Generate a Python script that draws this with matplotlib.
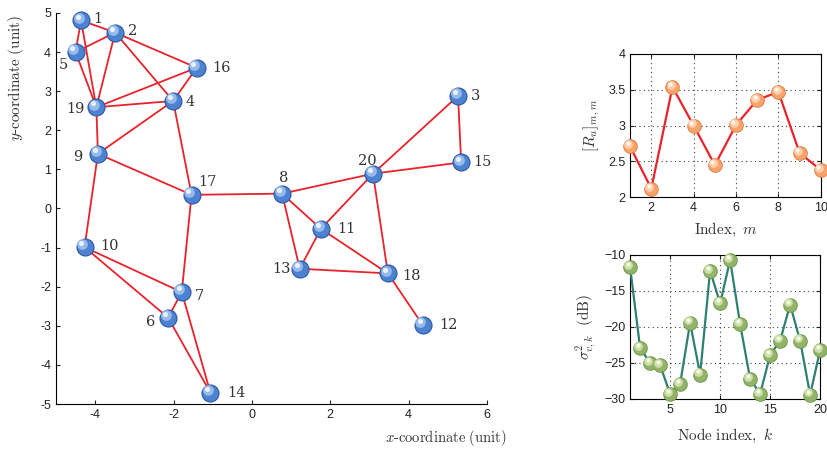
import matplotlib
matplotlib.use("Agg")
import matplotlib.pyplot as plt
import numpy as np
from matplotlib.transforms import offset_copy

plt.rcParams['mathtext.fontset'] = 'cm'
plt.rcParams['font.family'] = ['Liberation Sans', 'DejaVu Sans']

# ---- data ----
node_ids = list(range(1, 21))
node_x = [-4.36, -3.49, 5.26, -2.01, -4.50, -2.14, -1.79, 0.77, -3.93, -4.27,
          1.76, 4.36, 1.22, -1.06, 5.34, -1.41, -1.54, 3.47, -3.97, 3.09]
node_y = [4.81, 4.50, 2.88, 2.75, 4.00, -2.79, -2.14, 0.38, 1.40, -0.99,
          -0.52, -2.98, -1.54, -4.71, 1.18, 3.60, 0.35, -1.66, 2.59, 0.89]
edges = [(1, 2), (1, 5), (1, 19), (2, 5), (2, 19), (2, 16), (2, 4), (5, 19),
         (19, 16), (19, 4), (16, 4), (4, 9), (19, 9), (4, 17), (9, 17), (9, 10),
         (17, 8), (17, 7), (10, 7), (10, 6), (7, 6), (7, 14), (6, 14), (8, 20),
         (8, 11), (8, 13), (11, 13), (11, 20), (11, 18), (13, 18), (20, 18),
         (20, 3), (20, 15), (3, 15), (18, 12)]
# label offsets in points (dx, dy)
label_off = {1: (9, 1), 2: (9, 1), 3: (9, 0), 4: (9, -1), 5: (-12, -9), 6: (-16, -3),
             7: (9, -3), 8: (-2, 11), 9: (-18, -2), 10: (11, 1), 11: (12, 0),
             12: (12, 0), 13: (-20, 0), 14: (12, 0), 15: (9, 0), 16: (11, 0),
             17: (5, 9), 18: (10, -2), 19: (-22, -1), 20: (-11, 9)}

m_index = list(range(1, 11))
R_u = [2.71, 2.12, 3.54, 3.00, 2.45, 3.01, 3.36, 3.47, 2.62, 2.38]

k_index = list(range(1, 21))
sigma_db = [-11.7, -22.9, -25.0, -25.3, -29.3, -27.9, -19.4, -26.6, -12.2, -16.7,
            -10.7, -19.6, -27.2, -29.3, -23.9, -21.9, -16.9, -21.9, -29.4, -23.2]

RED = '#e8232b'


def spheres(ax, x, y, base, dark, light, size, z=5):
    ax.scatter(x, y, s=size, color=dark, zorder=z, linewidths=0, clip_on=False)
    ax.scatter(x, y, s=size * 0.78, color=base, zorder=z + 0.1, linewidths=0, clip_on=False)
    trans = ax.transData
    r = np.sqrt(size) / 2.0
    t2 = offset_copy(trans, fig=ax.figure, x=-r * 0.25, y=r * 0.3, units='points')
    ax.scatter(x, y, s=size * 0.35, color=light, zorder=z + 0.2, linewidths=0,
               transform=t2, alpha=0.8, clip_on=False)
    t3 = offset_copy(trans, fig=ax.figure, x=-r * 0.35, y=r * 0.42, units='points')
    ax.scatter(x, y, s=size * 0.08, color='white', zorder=z + 0.3, linewidths=0,
               transform=t3, alpha=0.8, clip_on=False)


fig = plt.figure(figsize=(8.28, 4.51), dpi=100)

# ---- main network plot ----
ax = fig.add_axes([0.0676, 0.1042, 0.5206, 0.867])
for a, b in edges:
    ax.plot([node_x[a - 1], node_x[b - 1]], [node_y[a - 1], node_y[b - 1]],
            color=RED, lw=1.3, zorder=2)
spheres(ax, node_x, node_y, '#4d82d0', '#2c56a0', '#a9c9f2', 170)
for i, nx, ny in zip(node_ids, node_x, node_y):
    dx, dy = label_off[i]
    ax.annotate(str(i), (nx, ny), xytext=(dx, dy), textcoords='offset points',
                ha='left', va='center', fontsize=10.5, family='DejaVu Serif',
                color='#333333')
ax.set_xlim(-5, 6)
ax.set_ylim(-5, 5)
ax.set_xticks([-4, -2, 0, 2, 4, 6])
ax.set_yticks([-5, -4, -3, -2, -1, 0, 1, 2, 3, 4, 5])
ax.set_xticklabels(['-4', '-2', '0', '2', '4', '6'])
ax.set_yticklabels(['-5', '-4', '-3', '-2', '-1', '0', '1', '2', '3', '4', '5'])
ax.spines['top'].set_visible(False)
ax.spines['right'].set_visible(False)
ax.tick_params(direction='in', length=3, labelsize=9, colors='#222222')
ax.set_xlabel(r'$x\mathrm{\text{-}coordinate\ (unit)}$', fontsize=10.5, color='#333333')
ax.xaxis.set_label_coords(0.905, -0.062)
ax.set_ylabel(r'$y\mathrm{\text{-}coordinate\ (unit)}$', fontsize=11, color='#333333')
ax.yaxis.set_label_coords(-0.07, 0.835)

# ---- top right ----
ax2 = fig.add_axes([0.761, 0.5625, 0.2303, 0.3178])
ax2.plot(m_index, R_u, color=RED, lw=1.6, zorder=3, clip_on=False)
spheres(ax2, m_index, R_u, '#f6a46c', '#e07a40', '#ffdcbc', 110)
ax2.set_xlim(1, 10)
ax2.set_ylim(2, 4)
ax2.set_xticks([2, 4, 6, 8, 10])
ax2.set_yticks([2, 2.5, 3, 3.5, 4])
ax2.set_yticklabels(['2', '2.5', '3', '3.5', '4'])
ax2.grid(True, linestyle=(0, (1, 3)), color='#444444', lw=0.8)
ax2.tick_params(direction='in', length=3, labelsize=9, top=True, right=True, colors='#222222')
ax2.set_xlabel(r'$\mathrm{Index,}\ m$', fontsize=11, color='#333333', labelpad=5)
ax2.set_ylabel(r'$[R_u]_{m,m}$', fontsize=11, color='#333333')

# ---- bottom right ----
ax3 = fig.add_axes([0.761, 0.1153, 0.2295, 0.3193])
ax3.plot(k_index, sigma_db, color='#2f7f70', lw=1.6, zorder=3, clip_on=False)
spheres(ax3, k_index, sigma_db, '#92b468', '#6c9448', '#dcebb8', 110)
ax3.set_xlim(1, 20)
ax3.set_ylim(-30, -10)
ax3.set_xticks([5, 10, 15, 20])
ax3.set_yticks([-30, -25, -20, -15, -10])
ax3.grid(True, linestyle=(0, (1, 3)), color='#444444', lw=0.8)
ax3.tick_params(direction='in', length=3, labelsize=9, top=True, right=True, colors='#222222')
ax3.set_xlabel(r'$\mathrm{Node\ index,}\ k$', fontsize=11, color='#333333', labelpad=8)
ax3.set_ylabel(r'$\sigma^2_{v,k}\ \ \mathrm{(dB)}$', fontsize=11, color='#333333')

fig.savefig('out.png', dpi=100)
